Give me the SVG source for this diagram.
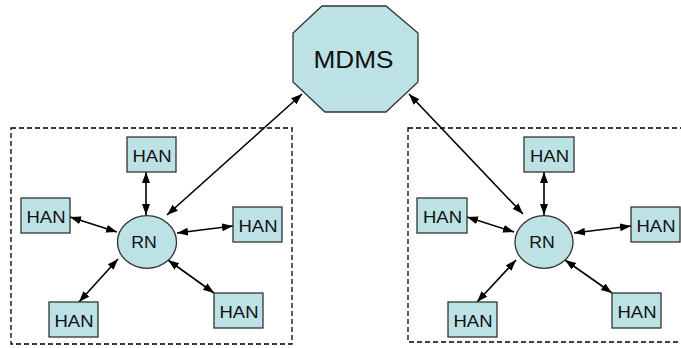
<svg xmlns="http://www.w3.org/2000/svg" width="681" height="348" viewBox="0 0 681 348">
<style>
.box{fill:#bde2e5;stroke:#333;stroke-width:1.3}
.t{font-family:"Liberation Sans",Arial,sans-serif;fill:#111;text-anchor:middle}
.han{font-size:17px}
.rn{font-size:17px}
.c{stroke:#000;stroke-width:1.6;fill:none;marker-start:url(#ah);marker-end:url(#ah)}
.grp{fill:none;stroke:#000;stroke-width:1.3;stroke-dasharray:5,3}
</style>
<defs>
<marker id="ah" markerUnits="userSpaceOnUse" markerWidth="12" markerHeight="10" refX="11" refY="4" orient="auto-start-reverse">
<path d="M0,0 L11,4 L0,8 z" fill="#000"/>
</marker>
</defs>
<rect width="681" height="348" fill="#fff"/>
<g id="groups">
<rect class="grp" x="11" y="128" width="281" height="216"/>
<rect class="grp" x="408" y="128" width="280" height="214"/>
</g>
<g id="connectors">
<line class="c" x1="302" y1="94" x2="167" y2="215"/>
<line class="c" x1="409" y1="94" x2="523" y2="214"/>
<line class="c" x1="146" y1="172" x2="146" y2="215"/>
<line class="c" x1="70" y1="217" x2="117" y2="232"/>
<line class="c" x1="233" y1="226" x2="177" y2="233"/>
<line class="c" x1="79" y1="302" x2="118" y2="259"/>
<line class="c" x1="214" y1="293" x2="168" y2="260"/>
<line class="c" x1="544" y1="172" x2="544" y2="215"/>
<line class="c" x1="467" y1="217" x2="514" y2="232"/>
<line class="c" x1="631" y1="226" x2="574" y2="233"/>
<line class="c" x1="477" y1="302" x2="516" y2="260"/>
<line class="c" x1="612" y1="293" x2="565" y2="260"/>
</g>
<g id="mdms">
<polygon class="box" points="322,6 386,6 418,33 418,82 386,112 325,112 293,82 293,33"/>
<text class="t" x="353.5" y="67.7" font-size="24" textLength="80" lengthAdjust="spacingAndGlyphs">MDMS</text>
</g>
<g id="rn1">
<ellipse class="box" cx="147" cy="242" rx="29.5" ry="26.3"/>
<text class="t rn" x="144" y="247.7" textLength="25.5" lengthAdjust="spacingAndGlyphs">RN</text>
</g>
<g id="rn2">
<ellipse class="box" cx="544" cy="242" rx="29" ry="26.3"/>
<text class="t rn" x="542" y="247.7" textLength="25.5" lengthAdjust="spacingAndGlyphs">RN</text>
</g>
<g id="han1"><rect class="box" x="127" y="137" width="49" height="35"/><text class="t han" x="152" y="161.7" textLength="39" lengthAdjust="spacingAndGlyphs">HAN</text></g>
<g id="han2"><rect class="box" x="21" y="198" width="49" height="35"/><text class="t han" x="46" y="222.7" textLength="39" lengthAdjust="spacingAndGlyphs">HAN</text></g>
<g id="han3"><rect class="box" x="233" y="207" width="49" height="35"/><text class="t han" x="258" y="231.7" textLength="39" lengthAdjust="spacingAndGlyphs">HAN</text></g>
<g id="han4"><rect class="box" x="49" y="302" width="49" height="35"/><text class="t han" x="74" y="326.7" textLength="39" lengthAdjust="spacingAndGlyphs">HAN</text></g>
<g id="han5"><rect class="box" x="214" y="293" width="49" height="35"/><text class="t han" x="239" y="317.7" textLength="39" lengthAdjust="spacingAndGlyphs">HAN</text></g>
<g id="han6"><rect class="box" x="524" y="137" width="50" height="35"/><text class="t han" x="549.5" y="161.7" textLength="39" lengthAdjust="spacingAndGlyphs">HAN</text></g>
<g id="han7"><rect class="box" x="417" y="198" width="50" height="35"/><text class="t han" x="442.5" y="222.7" textLength="39" lengthAdjust="spacingAndGlyphs">HAN</text></g>
<g id="han8"><rect class="box" x="631" y="207" width="49" height="35"/><text class="t han" x="656" y="231.7" textLength="39" lengthAdjust="spacingAndGlyphs">HAN</text></g>
<g id="han9"><rect class="box" x="448" y="302" width="49" height="35"/><text class="t han" x="473" y="326.7" textLength="39" lengthAdjust="spacingAndGlyphs">HAN</text></g>
<g id="han10"><rect class="box" x="612" y="293" width="49" height="35"/><text class="t han" x="637" y="317.7" textLength="39" lengthAdjust="spacingAndGlyphs">HAN</text></g>
</svg>
